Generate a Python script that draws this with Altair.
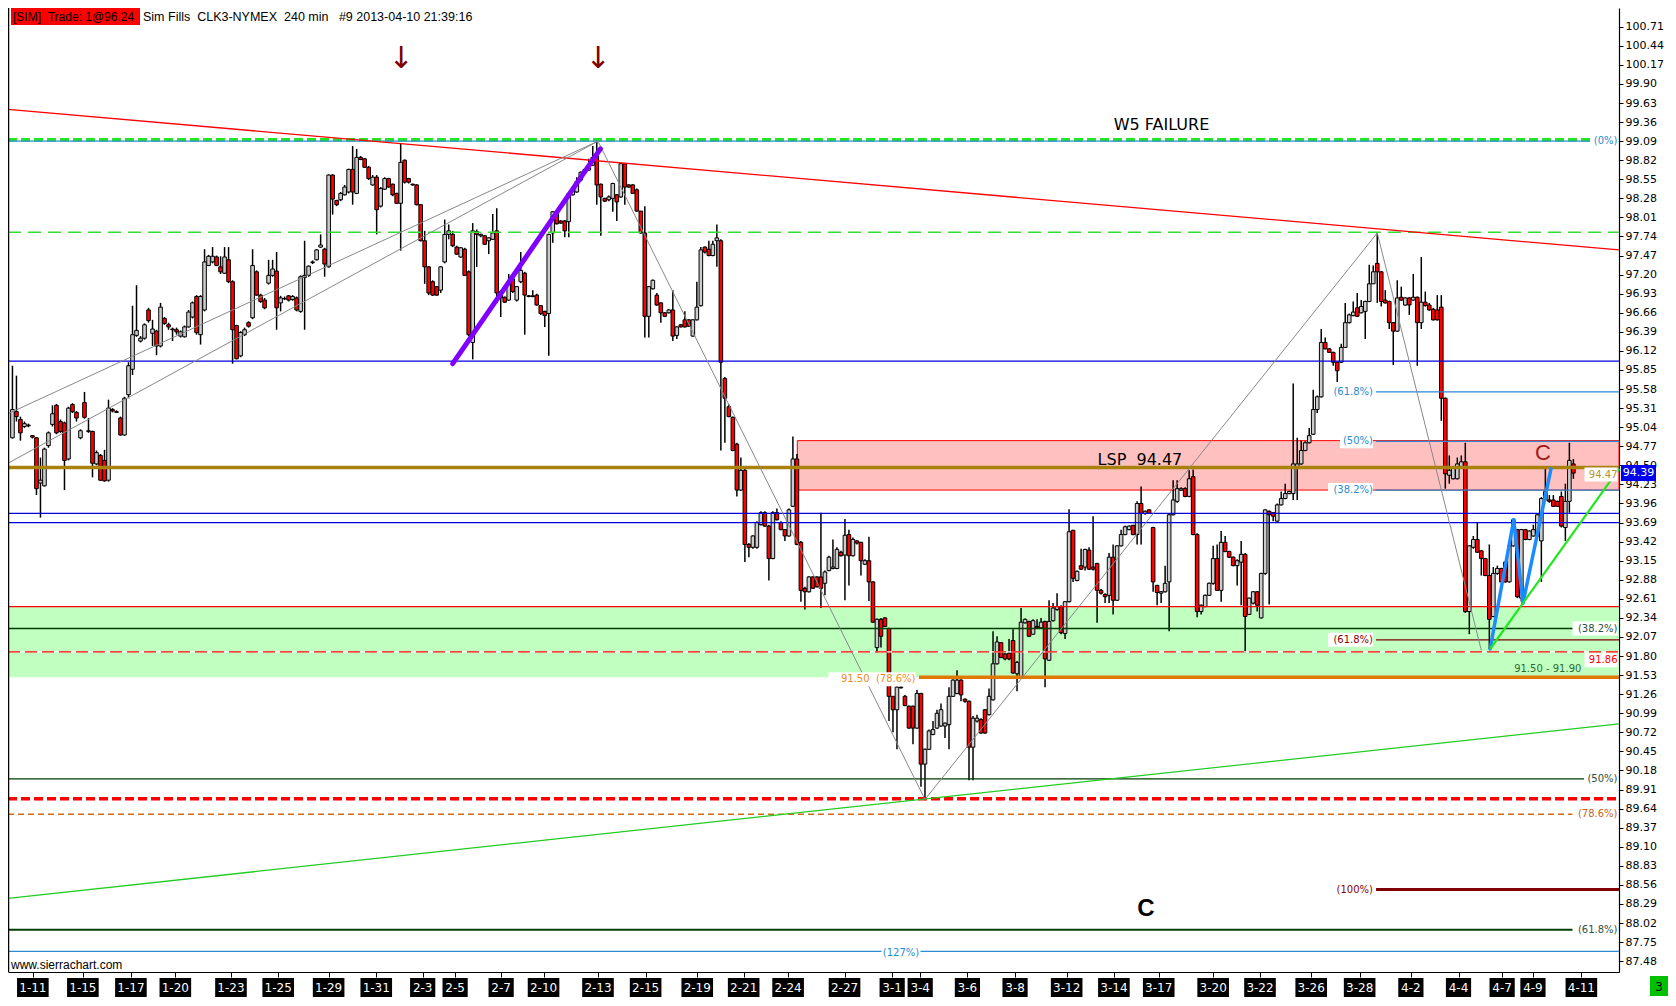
import altair as alt
import pandas as pd

W, H = 1611, 964
X0, X1 = -1.11, 401.4
Y0, Y1 = 87.327, 100.975
PX = (X1 - X0) / W
PY = (Y1 - Y0) / H

# 240 min candles, CLK3
opens = [
    94.89, 95.26, 95.15, 95.05, 95.06, 94.92, 94.89, 94.25, 94.21, 94.78,
    95.08, 95.35, 95.12, 95.10, 94.59, 95.36, 95.25, 94.89, 95.39, 94.98,
    94.98, 94.52, 94.64, 94.57, 94.29, 95.29, 95.26, 95.17, 94.93, 95.50,
    95.86, 96.34, 96.26, 96.30, 96.70, 96.37, 96.40, 96.19, 96.58, 96.49,
    96.43, 96.42, 96.33, 96.32, 96.46, 96.60, 96.89, 96.35, 96.70, 97.33,
    97.38, 97.45, 97.31, 97.22, 97.41, 97.10, 96.48, 96.05, 96.35, 96.52,
    96.59, 97.24, 96.91, 96.84, 97.08, 97.19, 97.25, 96.80, 96.86, 96.90,
    96.85, 96.87, 96.68, 97.16, 97.19, 97.37, 97.41, 97.59, 97.56, 97.31,
    98.61, 98.25, 98.26, 98.33, 98.37, 98.69, 98.35, 98.86, 98.84, 98.72,
    98.47, 98.58, 98.17, 98.41, 98.56, 98.48, 98.35, 98.21, 98.82, 98.56,
    98.48,
    98.47, 98.19, 97.68, 97.31, 97.10, 97.03, 96.98, 97.38, 97.77, 97.77,
    97.59, 97.45, 97.56, 97.24, 96.24, 97.81, 97.75, 97.75, 97.68, 97.70,
    97.82, 96.96, 96.88, 96.84, 97.14, 96.84, 97.10, 97.22, 96.90, 96.89,
    96.91, 96.76, 96.68, 96.65, 97.79, 98.06, 97.96, 97.96, 97.95, 98.33,
    98.37, 98.54, 98.65, 98.68, 98.75, 98.88, 98.48, 98.28, 98.26, 98.28,
    98.33, 98.30, 98.77, 98.47, 98.47, 98.40, 98.10, 97.79, 96.61, 97.00,
    96.91, 96.80, 96.66, 96.66, 96.70, 96.34, 96.49, 96.56, 96.56, 96.33,
    96.56, 96.76, 97.59, 97.56, 97.47, 97.68, 97.68, 95.73, 95.33, 95.18,
    94.80, 94.15, 94.43, 93.38, 93.34, 93.34, 93.66, 93.83, 93.64, 93.18,
    93.83, 93.69, 93.59, 93.50, 93.92, 94.59, 93.41, 92.76, 92.71, 92.92,
    92.92, 92.92, 92.83, 93.01, 93.04, 93.04, 93.27,
    93.23, 93.52, 93.22, 93.43, 93.41, 93.10, 93.15, 92.85, 91.92, 92.32,
    92.34, 92.19, 91.23, 91.04, 91.36, 91.23, 91.09, 91.09, 90.78, 91.27,
    90.27, 90.48, 90.69, 90.78, 90.81, 90.81, 90.83, 91.23, 91.27, 91.46,
    91.19, 91.16, 90.51, 90.88, 90.90, 91.04, 90.97, 91.18, 91.69, 91.99,
    91.83, 91.84, 92.02, 91.55, 91.50, 92.27, 92.29, 92.11, 92.22, 92.20,
    92.29, 91.74, 92.30, 92.46, 92.50, 92.12, 92.57, 93.58, 92.87, 93.08,
    93.06, 93.30, 93.06, 93.11, 92.73, 92.67, 92.66, 93.20, 92.59, 93.36,
    93.52, 93.59, 93.65, 93.52, 93.96, 93.82, 93.87, 93.62, 92.80, 92.69,
    92.71, 92.85, 93.80, 93.99, 94.15, 94.17, 94.06, 94.34, 93.52, 92.43,
    92.50, 92.66, 92.83, 93.18, 92.73, 93.41, 93.28, 93.20, 93.08, 93.13,
    93.24, 92.39, 92.55, 92.71, 92.34,
    92.97, 93.85, 93.83, 93.71, 93.94, 94.03, 94.10, 94.10, 94.48, 94.52,
    94.71, 94.82, 94.94, 95.29, 95.47, 96.24, 96.15, 96.10, 95.96, 95.96,
    96.17, 96.52, 96.62, 96.73, 96.66, 96.68, 96.82, 97.07, 97.36, 97.24,
    96.84, 96.82, 96.52, 96.40, 96.88, 96.77, 96.87, 96.84, 96.88, 96.52,
    96.81, 96.77, 96.71, 96.70, 96.74, 95.45, 94.36, 94.31, 94.31, 94.48,
    94.55, 92.43, 93.34, 93.45, 93.29, 93.18, 92.94, 92.36, 92.97, 93.04,
    93.13, 92.85, 93.36, 93.59, 92.62, 93.59, 93.45, 93.50, 93.50, 93.43,
    94.01, 94.01, 94.01, 93.99, 94.06, 93.62, 93.99, 94.52,
]
highs = [
    95.91, 95.77, 95.19, 95.12, 95.09, 94.93, 94.90, 94.61, 94.75, 94.98,
    95.35, 95.37, 95.15, 95.12, 95.33, 95.38, 95.27, 95.01, 95.54, 95.17,
    94.99, 94.71, 94.66, 94.72, 95.43, 95.31, 95.28, 95.19, 95.47, 95.96,
    96.76, 97.05, 96.33, 96.51, 96.73, 96.56, 96.42, 96.80, 96.60, 96.52,
    96.45, 96.45, 96.41, 96.48, 96.70, 96.82, 96.91, 96.91, 97.56, 97.48,
    97.59, 97.47, 97.46, 97.59, 97.59, 97.12, 96.49, 96.40, 96.45, 96.54,
    97.56, 97.26, 96.93, 96.87, 97.41, 97.41, 97.52, 96.90, 96.89, 96.91,
    96.91, 96.89, 97.19, 97.68, 97.33, 97.40, 97.56, 97.77, 97.58, 98.62,
    98.62, 98.26, 98.37, 98.47, 98.70, 99.02, 98.98, 98.88, 98.85, 98.74,
    98.61, 98.61, 98.44, 98.58, 98.57, 98.49, 98.36, 99.05, 98.83, 98.57,
    98.49,
    98.48, 98.20, 97.82, 97.32, 97.12, 97.04, 97.32, 97.98, 97.91, 97.82,
    97.61, 97.59, 97.58, 97.26, 97.93, 97.84, 97.78, 97.76, 97.73, 98.06,
    98.14, 96.98, 96.89, 97.21, 97.21, 97.04, 97.52, 97.24, 96.91, 96.98,
    96.93, 96.77, 96.69, 97.78, 98.10, 98.07, 97.97, 97.97, 98.37, 98.41,
    98.58, 98.66, 98.70, 98.84, 99.02, 99.09, 98.49, 98.29, 98.32, 98.50,
    98.34, 98.78, 98.78, 98.48, 98.48, 98.42, 98.10, 98.17, 97.04, 97.13,
    96.94, 96.81, 96.67, 96.71, 96.98, 96.47, 96.50, 96.68, 96.57, 96.57,
    97.10, 97.59, 97.60, 97.68, 97.68, 97.91, 97.70, 95.75, 95.36, 95.19,
    94.82, 94.61, 94.45, 93.40, 93.51, 93.71, 93.85, 93.85, 93.66, 93.85,
    93.89, 93.71, 93.60, 93.89, 94.91, 94.66, 93.43, 92.78, 92.93, 92.93,
    92.93, 93.83, 93.01, 93.22, 93.45, 93.34, 93.29,
    93.74, 93.59, 93.48, 93.44, 93.42, 93.17, 93.49, 92.86, 92.33, 92.34,
    92.35, 92.20, 91.23, 91.37, 91.37, 91.25, 91.10, 91.10, 91.32, 91.28,
    90.49, 90.76, 90.88, 91.04, 91.13, 90.86, 91.36, 91.47, 91.60, 91.47,
    91.20, 91.17, 90.95, 90.97, 90.92, 91.05, 91.34, 92.15, 92.08, 92.00,
    91.84, 92.04, 92.18, 91.73, 92.48, 92.33, 92.30, 92.32, 92.32, 92.34,
    92.30, 92.59, 92.55, 92.69, 92.52, 92.58, 93.88, 93.59, 93.01, 93.32,
    93.32, 93.34, 93.78, 93.12, 92.75, 92.69, 93.26, 93.38, 93.37, 93.59,
    93.65, 93.65, 93.66, 93.99, 94.20, 93.86, 93.88, 93.63, 92.81, 92.72,
    93.08, 93.82, 94.29, 94.29, 94.19, 94.19, 94.43, 94.44, 93.54, 92.53,
    92.67, 92.84, 93.36, 93.38, 93.57, 93.50, 93.29, 93.21, 93.17, 93.43,
    93.26, 92.63, 92.72, 92.72, 92.98,
    93.88, 93.86, 93.83, 93.96, 94.13, 94.24, 94.14, 95.66, 94.89, 94.85,
    94.84, 95.03, 95.57, 95.49, 96.43, 96.31, 96.16, 96.11, 95.97, 96.22,
    96.80, 96.65, 96.82, 96.94, 96.84, 96.83, 97.34, 97.33, 97.79, 97.25,
    96.98, 96.83, 96.53, 97.12, 97.03, 96.88, 96.88, 97.21, 96.89, 97.45,
    96.96, 96.80, 96.73, 96.91, 96.91, 95.46, 94.64, 94.49, 94.61, 94.64,
    94.82, 93.37, 93.50, 93.69, 93.30, 93.19, 93.38, 93.06, 93.08, 93.05,
    93.14, 93.37, 93.74, 93.60, 93.60, 93.60, 93.58, 93.66, 93.82, 94.05,
    94.47, 94.08, 94.08, 94.00, 94.13, 94.24, 94.82, 94.59,
]
lows = [
    94.88, 95.12, 94.85, 95.03, 95.04, 94.88, 94.08, 93.76, 94.20, 94.75,
    95.05, 94.94, 94.96, 94.15, 94.57, 95.24, 95.12, 94.87, 95.16, 94.96,
    94.33, 94.50, 94.28, 94.27, 94.27, 95.25, 95.24, 94.92, 94.92, 95.45,
    95.78, 96.32, 96.24, 96.28, 96.52, 96.19, 96.06, 96.17, 96.49, 96.42,
    96.26, 96.35, 96.31, 96.31, 96.45, 96.58, 96.35, 96.21, 96.68, 97.32,
    97.36, 97.32, 97.21, 97.21, 97.08, 95.94, 96.00, 96.03, 96.33, 96.45,
    96.57, 96.90, 96.80, 96.71, 97.06, 97.17, 96.42, 96.68, 96.84, 96.82,
    96.83, 96.68, 96.66, 96.42, 97.17, 97.35, 97.40, 97.58, 97.17, 97.30,
    98.05, 98.17, 98.24, 98.32, 98.35, 98.19, 98.34, 98.82, 98.71, 98.54,
    98.46, 97.77, 98.15, 98.40, 98.43, 98.31, 98.20, 97.54, 98.49, 98.49,
    98.46,
    98.18, 97.67, 97.07, 96.91, 96.90, 96.90, 96.94, 97.36, 97.70, 97.59,
    97.48, 97.44, 97.18, 96.33, 96.00, 97.31, 97.73, 97.62, 97.49, 97.69,
    96.80, 96.60, 96.80, 96.83, 96.94, 96.82, 97.08, 96.35, 96.88, 96.88,
    96.76, 96.63, 96.46, 96.05, 97.65, 97.91, 97.92, 97.73, 97.73, 98.32,
    98.36, 98.52, 98.64, 98.67, 98.74, 98.19, 97.75, 98.23, 98.24, 98.09,
    97.96, 98.29, 98.19, 98.43, 98.34, 98.09, 97.78, 96.31, 96.31, 96.99,
    96.76, 96.52, 96.60, 96.65, 96.26, 96.29, 96.45, 96.45, 96.46, 96.32,
    96.55, 96.75, 97.50, 97.46, 97.46, 97.31, 94.71, 94.82, 95.18, 94.70,
    94.06, 94.14, 93.13, 93.20, 93.32, 93.32, 93.65, 93.63, 92.87, 93.17,
    93.72, 93.58, 93.43, 93.49, 93.91, 93.37, 92.57, 92.46, 92.70, 92.75,
    92.77, 92.48, 92.66, 93.00, 93.03, 93.03, 93.21,
    92.59, 92.80, 93.21, 93.38, 92.94, 93.09, 92.58, 92.27, 91.85, 91.92,
    92.21, 90.88, 90.72, 90.48, 91.34, 91.09, 90.77, 90.55, 90.77, 89.95,
    89.76, 90.47, 90.68, 90.77, 90.80, 90.64, 90.48, 91.22, 91.26, 91.16,
    91.14, 90.04, 90.04, 90.86, 90.70, 90.70, 90.96, 91.17, 91.68, 91.77,
    91.74, 91.74, 91.55, 91.30, 91.49, 92.26, 92.07, 92.10, 92.19, 92.19,
    91.36, 91.73, 92.29, 92.44, 92.11, 92.04, 92.56, 92.85, 92.86, 93.02,
    93.01, 93.02, 93.01, 92.27, 92.67, 92.55, 92.55, 92.39, 92.58, 93.35,
    93.51, 93.58, 93.51, 93.38, 93.38, 93.80, 93.81, 92.71, 92.52, 92.55,
    92.70, 92.15, 93.79, 93.97, 94.14, 94.05, 94.05, 93.51, 92.35, 92.39,
    92.49, 92.65, 92.81, 92.72, 92.57, 93.27, 93.19, 93.07, 92.80, 92.52,
    91.85, 92.38, 92.53, 92.43, 92.33,
    92.95, 92.53, 93.71, 93.70, 93.93, 94.02, 94.09, 94.01, 94.01, 94.51,
    94.70, 94.81, 94.93, 95.24, 95.46, 96.14, 96.09, 95.91, 95.68, 95.95,
    96.16, 96.51, 96.61, 96.60, 96.65, 96.29, 96.81, 97.07, 96.80, 96.75,
    96.79, 96.43, 95.92, 96.39, 96.83, 96.76, 96.63, 96.83, 95.91, 96.43,
    96.75, 96.69, 96.55, 96.55, 95.13, 94.17, 94.24, 94.30, 94.30, 94.47,
    92.41, 92.11, 93.32, 93.26, 92.94, 92.93, 91.90, 92.35, 92.95, 92.84,
    92.84, 92.84, 93.35, 92.62, 92.57, 93.44, 93.44, 93.49, 93.45, 92.85,
    94.00, 93.97, 93.91, 93.91, 93.62, 93.43, 93.83, 94.31,
]
closes = [
    95.29, 95.19, 94.96, 95.09, 95.07, 94.90, 94.17, 94.29, 94.73, 94.96,
    95.23, 94.96, 94.98, 94.57, 95.31, 95.26, 95.17, 94.99, 95.18, 94.99,
    94.53, 94.68, 94.29, 94.28, 95.31, 95.27, 95.25, 94.93, 95.45, 95.91,
    96.35, 96.41, 96.30, 96.49, 96.55, 96.43, 96.19, 96.74, 96.51, 96.46,
    96.42, 96.39, 96.39, 96.46, 96.67, 96.80, 96.38, 96.89, 97.38, 97.46,
    97.46, 97.33, 97.24, 97.45, 97.10, 96.42, 96.01, 96.38, 96.42, 96.47,
    97.33, 96.91, 96.82, 96.73, 97.19, 97.28, 96.73, 96.87, 96.86, 96.84,
    96.89, 96.70, 97.17, 97.19, 97.32, 97.38, 97.55, 97.62, 97.35, 98.61,
    98.27, 98.19, 98.35, 98.44, 98.69, 98.37, 98.86, 98.83, 98.72, 98.56,
    98.58, 98.12, 98.42, 98.56, 98.44, 98.33, 98.21, 98.79, 98.51, 98.51,
    98.47,
    98.19, 97.68, 97.31, 96.94, 96.91, 96.91, 97.31, 97.77, 97.82, 97.61,
    97.49, 97.58, 97.19, 96.35, 97.82, 97.77, 97.77, 97.63, 97.72, 97.79,
    96.94, 96.87, 96.81, 97.10, 96.96, 97.03, 97.26, 96.91, 96.89, 96.90,
    96.77, 96.65, 96.62, 97.77, 98.09, 97.92, 97.93, 97.82, 98.35, 98.40,
    98.52, 98.65, 98.69, 98.71, 98.86, 98.47, 98.30, 98.24, 98.30, 98.49,
    98.23, 98.77, 98.44, 98.44, 98.35, 98.10, 97.79, 96.61, 97.03, 97.12,
    96.77, 96.66, 96.61, 96.70, 96.33, 96.46, 96.46, 96.46, 96.47, 96.56,
    96.74, 97.55, 97.52, 97.47, 97.63, 97.72, 95.96, 95.45, 95.19, 94.71,
    94.15, 94.43, 93.38, 93.34, 93.50, 93.69, 93.83, 93.64, 93.18, 93.83,
    93.73, 93.59, 93.50, 93.87, 94.59, 93.38, 92.73, 92.71, 92.92, 92.76,
    92.78, 92.76, 92.99, 93.20, 93.06, 93.31, 93.22,
    93.51, 93.22, 93.45, 93.40, 93.15, 93.15, 92.85, 92.28, 92.32, 92.08,
    92.22, 91.23, 91.04, 91.36, 91.35, 91.10, 90.78, 90.78, 91.27, 90.27,
    90.48, 90.74, 90.76, 90.99, 91.04, 90.85, 91.23, 91.46, 91.46, 91.25,
    91.16, 90.51, 90.92, 90.92, 90.71, 90.71, 91.23, 91.69, 92.00, 91.78,
    91.76, 91.76, 91.56, 91.71, 92.28, 92.32, 92.08, 92.30, 92.20, 92.28,
    91.76, 92.29, 92.48, 92.50, 92.13, 92.57, 93.56, 92.90, 93.00, 93.03,
    93.31, 93.03, 93.03, 92.73, 92.69, 92.64, 93.20, 92.59, 93.36, 93.52,
    93.63, 93.64, 93.52, 93.96, 93.82, 93.85, 93.82, 92.85, 92.70, 92.71,
    92.83, 93.80, 94.01, 94.17, 94.17, 94.06, 94.31, 93.52, 92.43, 92.52,
    92.66, 92.83, 93.18, 92.73, 93.41, 93.28, 93.20, 93.08, 93.15, 93.24,
    92.36, 92.62, 92.71, 92.52, 92.97,
    93.87, 93.80, 93.78, 93.94, 94.03, 94.10, 94.13, 94.52, 94.52, 94.71,
    94.82, 94.92, 95.29, 95.47, 96.24, 96.15, 96.10, 95.96, 95.84, 96.17,
    96.52, 96.63, 96.67, 96.61, 96.75, 96.82, 97.07, 97.24, 97.24, 96.82,
    96.80, 96.52, 96.40, 96.87, 96.84, 96.87, 96.77, 96.88, 96.52, 96.81,
    96.76, 96.70, 96.56, 96.56, 95.45, 94.38, 94.43, 94.48, 94.52, 94.55,
    92.43, 93.36, 93.45, 93.27, 93.18, 92.94, 92.32, 92.97, 93.04, 92.85,
    92.85, 93.36, 93.73, 92.64, 93.59, 93.45, 93.57, 93.59, 93.80, 94.03,
    94.13, 93.99, 93.92, 93.92, 93.64, 93.99, 94.57, 94.39,
]

date_labels = ["1-11", "1-15", "1-17", "1-20", "1-23", "1-25", "1-29", "1-31",
               "2-3", "2-5", "2-7", "2-10", "2-13", "2-15", "2-19", "2-21",
               "2-24", "2-27", "3-1", "3-4", "3-6", "3-8", "3-12", "3-14",
               "3-17", "3-20", "3-22", "3-26", "3-28", "4-2", "4-4", "4-7",
               "4-9", "4-11"]
date_bars = [5.1, 17.6, 29.6, 40.7, 54.6, 66.4, 79.0, 90.9, 102.5, 110.6,
             122.1, 132.7, 146.3, 158.2, 171.1, 182.7, 193.8, 207.9, 219.8,
             226.8, 238.6, 250.5, 263.4, 275.2, 286.4, 300.0, 311.7, 324.5,
             336.6, 349.4, 361.3, 372.2, 379.9, 392.0]

price_ticks = [87.48, 87.75, 88.02, 88.29, 88.56, 88.83, 89.10, 89.37, 89.64,
               89.91, 90.18, 90.45, 90.72, 90.99, 91.26, 91.53, 91.80, 92.07,
               92.34, 92.61, 92.88, 93.15, 93.42, 93.69, 93.96, 94.23, 94.50,
               94.77, 95.04, 95.31, 95.58, 95.85, 96.12, 96.39, 96.66, 96.93,
               97.20, 97.47, 97.74, 98.01, 98.28, 98.55, 98.82, 99.09, 99.36,
               99.63, 99.90, 100.17, 100.44, 100.71]

# horizontal levels
lvl_price = [99.11, 99.09, 97.80, 95.975, 95.54, 94.84, 94.15, 93.82, 93.69,
             92.50, 92.19, 92.03, 91.86, 91.86, 91.50, 90.06, 89.78, 89.56,
             88.495, 87.925, 87.62, 94.47]
lvl_from = [X0, X0, X0, X0, 340.7, 340.7, 340.7, X0, X0, X0, X0, 340.7, X0,
            X0, 226.5, X0, X0, X0, 340.7, X0, X0, X0]
lvl_to = [394.2, 394.2, X1, X1, X1, X1, X1, X1, X1, X1, 390.5, X1, X1, X1, X1,
          392.7, X1, 391.8, X1, 390.5, X1, X1]
lvl_kind = ["lime_thick", "fib_blue", "lime_dash", "blue", "fib_blue",
            "fib_blue", "fib_blue", "blue", "blue", "red_thin", "dkgreen",
            "maroon_thin", "white", "red_dash", "orange_thick", "dkgreen",
            "red_dash_thick", "orange_dash", "maroon_thick", "dkgreen_thick",
            "fib_blue", "gold"]

# drawn trend lines / swings
seg_x1 = [X0, X0, X0, X0, 146.3, 228, 341, 110.0, 369.2, 375.1, 377.4, 369.2]
seg_y1 = [99.54, 88.37, 95.23, 94.53, 99.09, 89.77, 97.79, 95.94, 91.90,
          93.73, 92.55, 91.90]
seg_x2 = [X1, X1, 146.3, 146.3, 228, 341, 367, 146.9, 375.1, 377.4, 384.4, X1]
seg_y2 = [97.55, 90.84, 99.09, 99.09, 89.77, 97.79, 91.88, 98.98, 93.73,
          92.55, 94.45, 94.45]
seg_kind = ["red", "lime", "gray", "gray", "gray", "gray", "gray", "purple",
            "blue", "blue", "blue", "lime2"]

# zones
zone_x1 = [X0, 196.1]
zone_x2 = [X1, X1]
zone_top = [92.50, 94.85]
zone_bot = [91.50, 94.15]
zone_fill = ["#c0ffc0", "#ffc0c0"]

# level labels (boxed)
lab_text = ["(0%)", "(61.8%)", "(50%)", "(38.2%)", "(61.8%)", "(100%)",
            "(38.2%)", "91.86", "(50%)", "(78.6%)", "(61.8%)", "94.47",
            "91.50\u00a0\u00a0(78.6%)", "(127%)"]
lab_bar = [X1, 340.3, 340.3, 340.3, 340.3, 340.3, X1, X1, X1, X1, X1, X1,
           226.0, 222.0]
lab_price = [99.09, 95.54, 94.84, 94.15, 92.03, 88.495, 92.19, 91.74, 90.06,
             89.56, 87.925, 94.37, 91.47, 87.60]
lab_kind = ["fib", "fib", "fib", "fib", "maroon", "maroon", "dkgreen", "red",
            "dkgreen", "choc", "dkgreen", "gold", "orange", "fib"]
lab_align = ["right"] * 13 + ["center"]

LINE_STYLE = {
    "lime_thick": dict(color="#22e622", strokeWidth=3.5, strokeDash=[9, 4]),
    "fib_blue": dict(color="#2a8bd3", strokeWidth=1.3),
    "lime_dash": dict(color="#33dd33", strokeWidth=1.3, strokeDash=[13, 7]),
    "blue": dict(color="#0000dd", strokeWidth=1.3),
    "red_thin": dict(color="#ff0000", strokeWidth=1.1),
    "dkgreen": dict(color="#003b00", strokeWidth=1.3),
    "maroon_thin": dict(color="#800000", strokeWidth=1.3),
    "white": dict(color="#ffffff", strokeWidth=1.3),
    "red_dash": dict(color="#ff0000", strokeWidth=1.3, strokeDash=[12, 5]),
    "orange_thick": dict(color="#e07800", strokeWidth=3.5),
    "red_dash_thick": dict(color="#ff0000", strokeWidth=3.5, strokeDash=[9, 4]),
    "orange_dash": dict(color="#cc6a1a", strokeWidth=1.6, strokeDash=[6, 4]),
    "maroon_thick": dict(color="#800000", strokeWidth=3.2),
    "dkgreen_thick": dict(color="#004000", strokeWidth=2),
    "gold": dict(color="#a8820c", strokeWidth=3.5),
}
SEG_STYLE = {
    "red": dict(color="#ff0000", strokeWidth=1.3),
    "lime": dict(color="#22cc22", strokeWidth=1.3),
    "gray": dict(color="#888888", strokeWidth=1),
    "purple": dict(color="#8000ff", strokeWidth=5, strokeCap="round"),
    "blue": dict(color="#1a8cff", strokeWidth=3.5, strokeCap="round"),
    "lime2": dict(color="#22e622", strokeWidth=2.2),
}
LABEL_COLOR = {"fib": "#2a8bd3", "maroon": "#8b0000", "dkgreen": "#2f4f3f",
               "red": "#ff0000", "choc": "#c8641e", "gold": "#b3932a",
               "orange": "#f08c1e"}

xs = alt.Scale(domain=[X0, X1], nice=False, zero=False)
ys = alt.Scale(domain=[Y0, Y1], nice=False, zero=False)

x_axis = alt.Axis(orient="bottom", values=date_bars, labels=False, ticks=True,
                  tickSize=5, tickColor="black", domainColor="black",
                  domainWidth=1.2, grid=False, title=None)
y_axis = alt.Axis(orient="right", values=price_ticks, format=".2f",
                  labelFont="DejaVu Sans", labelFontSize=11, labelColor="black",
                  tickColor="black", tickSize=4, domainColor="black",
                  domainWidth=1.2, grid=False, labelPadding=2,
                  labelOverlap=False, labelFlush=False, title=None)


def qx(f):
    return alt.X(f, type="quantitative", scale=xs, axis=x_axis, title=None)


def qy(f):
    return alt.Y(f, type="quantitative", scale=ys, axis=y_axis, title=None)


one = pd.DataFrame({"a": [0]})

bars = pd.DataFrame({"bar": range(len(closes)), "open": opens, "high": highs,
                     "low": lows, "close": closes})
bars["left"] = bars["bar"] - 0.45
bars["right"] = bars["bar"] + 0.45
bars["fill"] = ["#cccccc" if c >= o else "#ff0000" for o, c in zip(opens, closes)]

levels = pd.DataFrame({"price": lvl_price, "x1": lvl_from, "x2": lvl_to,
                       "kind": lvl_kind})
segs = pd.DataFrame({"x1": seg_x1, "y1": seg_y1, "x2": seg_x2, "y2": seg_y2,
                     "kind": seg_kind})
zones = pd.DataFrame({"x1": zone_x1, "x2": zone_x2, "top": zone_top,
                      "bot": zone_bot, "fill": zone_fill})

labs = pd.DataFrame({"text": lab_text, "bar": lab_bar, "price": lab_price,
                     "kind": lab_kind, "align": lab_align})
labs["color"] = labs["kind"].map(LABEL_COLOR)
labs["w"] = labs["text"].str.len() * 6.0 + 3
labs["tx"] = labs["bar"].where(labs["align"] == "center", labs["bar"] - 1.5 * PX)
labs["l"] = labs["bar"].where(labs["align"] == "center",
                              labs["bar"] - (labs["w"] / 2 + 1.5) * PX) - labs["w"] / 2 * PX
labs["r"] = labs["l"] + labs["w"] * PX
labs["top"] = labs["price"] + 7 * PY
labs["bot"] = labs["price"] - 7 * PY

dates = pd.DataFrame({"label": date_labels, "bar": date_bars})
dates["l"] = dates["bar"] - (dates["label"].str.len() * 6.4 + 6) / 2 * PX
dates["r"] = dates["bar"] + (dates["label"].str.len() * 6.4 + 6) / 2 * PX

layers = []

layers.append(
    alt.Chart(zones).mark_rect().encode(
        x=qx("x1"), x2="x2", y=qy("top"), y2="bot",
        fill=alt.Fill("fill:N", scale=None))
)
layers.append(
    alt.Chart(zones.iloc[[1]]).mark_rect(fillOpacity=0, stroke="#ff0000",
                                         strokeWidth=1).encode(
        x=qx("x1"), x2="x2", y=qy("top"), y2="bot")
)

layers.append(
    alt.Chart(bars).mark_rule(color="black", strokeWidth=1.5).encode(
        x=qx("bar"), y=qy("low"), y2="high")
)
layers.append(
    alt.Chart(bars).mark_rect(stroke="black", strokeWidth=1).encode(
        x=qx("left"), x2="right", y=qy("open"), y2="close",
        fill=alt.Fill("fill:N", scale=None))
)

for kind, style in LINE_STYLE.items():
    sub = levels[levels["kind"] == kind]
    if len(sub):
        layers.append(alt.Chart(sub).mark_rule(**style).encode(
            x=qx("x1"), x2="x2", y=qy("price")))

for kind, style in SEG_STYLE.items():
    sub = segs[segs["kind"] == kind]
    layers.append(alt.Chart(sub).mark_rule(**style).encode(
        x=qx("x1"), x2="x2", y=qy("y1"), y2="y2"))

# left frame line
layers.append(alt.Chart(one).mark_rule(color="black", strokeWidth=1.5).encode(
    x=alt.value(0.5), y=alt.value(0), y2=alt.value(H)))

# level labels with white boxes
layers.append(alt.Chart(labs).mark_rect(color="white").encode(
    x=qx("l"), x2="r", y=qy("top"), y2="bot"))
for al in ["right", "center"]:
    sub = labs[labs["align"] == al]
    layers.append(alt.Chart(sub).mark_text(
        align=al, baseline="middle", font="DejaVu Sans", fontSize=10).encode(
        x=qx("tx"), y=qy("price"), text="text:N",
        color=alt.Color("color:N", scale=None)))

notes = pd.DataFrame({"text": ["W5 FAILURE", "LSP\u00a0\u00a094.47"],
                      "bar": [287.1, 281.7], "price": [99.32, 94.57]})
layers.append(alt.Chart(notes).mark_text(
    font="DejaVu Sans", fontSize=16, color="black", baseline="middle").encode(
    x=qx("bar"), y=qy("price"), text="text:N"))

zone_note = pd.DataFrame({"text": ["91.50 - 91.90"], "bar": [383.6], "price": [91.61]})
layers.append(alt.Chart(zone_note).mark_text(
    font="DejaVu Sans", fontSize=10, color="#2e6b2e", baseline="middle").encode(
    x=qx("bar"), y=qy("price"), text="text:N"))

wave_c = pd.DataFrame({"text": ["C"], "bar": [283.2], "price": [88.22]})
layers.append(alt.Chart(wave_c).mark_text(
    font="Liberation Sans", fontSize=24, fontWeight="bold", color="black",
    baseline="middle").encode(x=qx("bar"), y=qy("price"), text="text:N"))

wave_c2 = pd.DataFrame({"text": ["C"], "bar": [382.4], "price": [94.68]})
layers.append(alt.Chart(wave_c2).mark_text(
    font="Liberation Sans", fontSize=22, color="#a01818",
    baseline="middle").encode(x=qx("bar"), y=qy("price"), text="text:N"))

arrows = pd.DataFrame({"text": ["\u2193", "\u2193"], "bar": [97.1, 146.3],
                       "price": [100.25, 100.25]})
layers.append(alt.Chart(arrows).mark_text(
    font="DejaVu Sans", fontSize=30, color="#800000", baseline="middle").encode(
    x=qx("bar"), y=qy("price"), text="text:N"))

# date labels on black boxes
layers.append(alt.Chart(dates).mark_rect(color="black").encode(
    x=qx("l"), x2="r", y=alt.value(H + 6), y2=alt.value(H + 25)))
layers.append(alt.Chart(dates).mark_text(
    color="white", font="DejaVu Sans", fontSize=12, baseline="middle").encode(
    x=qx("bar"), y=alt.value(H + 16), text="label:N"))

# last price box on the axis
last = pd.DataFrame({"price": [94.39], "text": ["94.39"]})
last["top"] = last["price"] + 8 * PY
last["bot"] = last["price"] - 8 * PY
layers.append(alt.Chart(last).mark_rect(color="#0000ee").encode(
    x=alt.value(W + 2), x2=alt.value(W + 37), y=qy("top"), y2="bot"))
layers.append(alt.Chart(last).mark_text(
    color="white", font="DejaVu Sans", fontSize=11, baseline="middle",
    align="center").encode(x=alt.value(W + 19.5), y=qy("price"), text="text:N"))

# header
layers.append(alt.Chart(one).mark_rect(color="#ff0000").encode(
    x=alt.value(3), x2=alt.value(132), y=alt.value(0), y2=alt.value(17)))
layers.append(alt.Chart(one).mark_text(
    align="left", baseline="middle", font="Liberation Sans", fontSize=12,
    color="black").encode(
    x=alt.value(5), y=alt.value(9),
    text=alt.value("[SIM]\u00a0\u00a0Trade: 1@96.24")))
layers.append(alt.Chart(one).mark_text(
    align="left", baseline="middle", font="Liberation Sans", fontSize=12.5,
    color="black").encode(
    x=alt.value(135), y=alt.value(9),
    text=alt.value("Sim Fills\u00a0\u00a0CLK3-NYMEX\u00a0\u00a0240 min\u00a0\u00a0\u00a0#9 2013-04-10 21:39:16")))

layers.append(alt.Chart(one).mark_text(
    align="left", baseline="alphabetic", font="Liberation Sans", fontSize=12,
    color="black").encode(
    x=alt.value(3), y=alt.value(H - 3), text=alt.value("www.sierrachart.com")))

# green counter box at the bottom right
layers.append(alt.Chart(one).mark_rect(color="#00c000").encode(
    x=alt.value(W + 31), x2=alt.value(W + 49), y=alt.value(H + 4),
    y2=alt.value(H + 24)))
layers.append(alt.Chart(one).mark_text(
    font="DejaVu Sans", fontSize=12, color="black", baseline="middle").encode(
    x=alt.value(W + 40), y=alt.value(H + 14.5), text=alt.value("3")))

chart = (
    alt.layer(*layers)
    .properties(
        width=W,
        height=H,
        autosize=alt.AutoSizeParams(type="none"),
        padding={"left": 0, "top": 0, "right": 49, "bottom": 26},
        background="white",
    )
    .configure_view(stroke=None)
)

chart.save("out.html", embed_options={"renderer": "svg", "actions": False})
